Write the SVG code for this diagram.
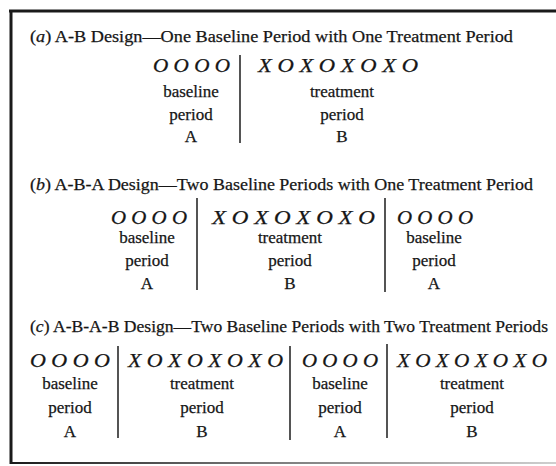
<svg xmlns="http://www.w3.org/2000/svg" width="556" height="466" viewBox="0 0 556 466">
<defs>
<linearGradient id="fade" x1="0" y1="0" x2="1" y2="0">
<stop offset="0" stop-color="#1a1a1a"/>
<stop offset="0.45" stop-color="#777"/>
<stop offset="1" stop-color="#cfcfcf"/>
</linearGradient>
</defs>
<style>
text { font-family: "Liberation Serif", "Times New Roman", serif; fill: #161616; stroke: #161616; stroke-width: 0.25; }
.title { font-size: 17.5px; }
.seq { font-size: 18px; font-style: italic; }
.lbl { font-size: 17px; text-anchor: middle; }
.div { stroke: #2a2a2a; stroke-width: 1.6; }
.frame { stroke: #1a1a1a; fill: none; }
</style>
<rect width="556" height="466" fill="#ffffff"/>
<g id="frame">
<line class="frame" x1="9" y1="11" x2="556" y2="11" stroke-width="3"/>
<line class="frame" x1="11" y1="10" x2="11" y2="464" stroke-width="3"/>
<rect x="10" y="462" width="546" height="2" fill="url(#fade)"/>
</g>

<!-- Panel a -->
<g id="panel-a">
<text class="title" x="30" y="42" textLength="483" lengthAdjust="spacingAndGlyphs">(<tspan font-style="italic">a</tspan>) A-B Design—One Baseline Period with One Treatment Period</text>
<g id="a-baseline">
<text class="seq" x="153" y="72" textLength="77" lengthAdjust="spacingAndGlyphs">O O O O</text>
<text class="lbl" x="191" y="97">baseline</text>
<text class="lbl" x="191" y="120">period</text>
<text class="lbl" x="191" y="142">A</text>
</g>
<g id="a-treatment">
<text class="seq" x="258" y="72" textLength="160" lengthAdjust="spacingAndGlyphs">X O X O X O X O</text>
<text class="lbl" x="342" y="97">treatment</text>
<text class="lbl" x="342" y="120">period</text>
<text class="lbl" x="342" y="142">B</text>
</g>
</g>

<!-- Panel b -->
<g id="panel-b">
<text class="title" x="30" y="190" textLength="503" lengthAdjust="spacingAndGlyphs">(<tspan font-style="italic">b</tspan>) A-B-A Design—Two Baseline Periods with One Treatment Period</text>
<g id="b-baseline1">
<text class="seq" x="111" y="224" textLength="76" lengthAdjust="spacingAndGlyphs">O O O O</text>
<text class="lbl" x="147" y="243">baseline</text>
<text class="lbl" x="147" y="266">period</text>
<text class="lbl" x="147" y="289">A</text>
</g>
<g id="b-treatment">
<text class="seq" x="212" y="224" textLength="163" lengthAdjust="spacingAndGlyphs">X O X O X O X O</text>
<text class="lbl" x="290" y="243">treatment</text>
<text class="lbl" x="290" y="266">period</text>
<text class="lbl" x="290" y="289">B</text>
</g>
<g id="b-baseline2">
<text class="seq" x="397" y="224" textLength="76" lengthAdjust="spacingAndGlyphs">O O O O</text>
<text class="lbl" x="434" y="243">baseline</text>
<text class="lbl" x="434" y="266">period</text>
<text class="lbl" x="434" y="289">A</text>
</g>
</g>

<!-- Panel c -->
<g id="panel-c">
<text class="title" x="30" y="332" textLength="518" lengthAdjust="spacingAndGlyphs">(<tspan font-style="italic">c</tspan>) A-B-A-B Design—Two Baseline Periods with Two Treatment Periods</text>
<g id="c-baseline1">
<text class="seq" x="30" y="367" textLength="80" lengthAdjust="spacingAndGlyphs">O O O O</text>
<text class="lbl" x="70" y="389">baseline</text>
<text class="lbl" x="70" y="413">period</text>
<text class="lbl" x="70" y="437">A</text>
</g>
<g id="c-treatment1">
<text class="seq" x="128" y="367" textLength="155" lengthAdjust="spacingAndGlyphs">X O X O X O X O</text>
<text class="lbl" x="202" y="389">treatment</text>
<text class="lbl" x="202" y="413">period</text>
<text class="lbl" x="202" y="437">B</text>
</g>
<g id="c-baseline2">
<text class="seq" x="302" y="367" textLength="76" lengthAdjust="spacingAndGlyphs">O O O O</text>
<text class="lbl" x="340" y="389">baseline</text>
<text class="lbl" x="340" y="413">period</text>
<text class="lbl" x="340" y="437">A</text>
</g>
<g id="c-treatment2">
<text class="seq" x="397" y="367" textLength="150" lengthAdjust="spacingAndGlyphs">X O X O X O X O</text>
<text class="lbl" x="472" y="389">treatment</text>
<text class="lbl" x="472" y="413">period</text>
<text class="lbl" x="472" y="437">B</text>
</g>
</g>

<g id="connectors">
<line class="div" x1="240" y1="55" x2="240" y2="143"/>
<line class="div" x1="197" y1="198" x2="197" y2="290"/>
<line class="div" x1="385" y1="198" x2="385" y2="292"/>
<line class="div" x1="118" y1="346" x2="118" y2="438"/>
<line class="div" x1="290" y1="346" x2="290" y2="440"/>
<line class="div" x1="387" y1="344" x2="387" y2="438"/>
</g>
</svg>
